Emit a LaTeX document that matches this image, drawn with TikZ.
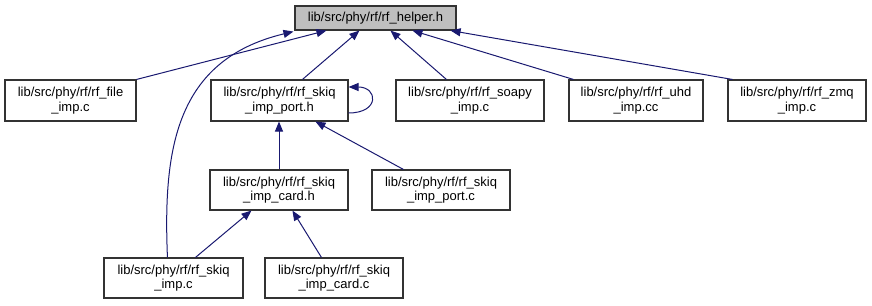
\documentclass[tikz,border=0pt]{standalone}
\usepackage{fontspec}
\setmainfont{Liberation Sans}
\usetikzlibrary{arrows.meta}
\definecolor{edgeblue}{HTML}{191970}
\definecolor{rootfill}{HTML}{BFBFBF}
\definecolor{boxline}{HTML}{333333}
\begin{document}
\begin{tikzpicture}[x=1pt,y=-1pt,
  filebox/.style={draw=boxline,line width=1.1pt,fill=white,inner sep=0pt,
    align=center,minimum height=41pt,
    font=\fontsize{13}{14.5}\selectfont},
  rootbox/.style={filebox,fill=rootfill,minimum height=24pt},
  dep/.style={draw=edgeblue,line width=1pt,
    -{Triangle[length=10pt,width=8pt]}}]
\useasboundingbox (0,0) rectangle (872,305);

% header under inspection
\node[rootbox,minimum width=161pt] (helper) at (375.5,18) {lib/src/phy/rf/rf\_helper.h};

% files that include it directly
\node[filebox,minimum width=131pt] (file)  at (70.5,100.5) {lib/src/phy/rf/rf\_file\\\_imp.c};
\node[filebox,minimum width=137pt] (porth) at (279.5,100.5) {lib/src/phy/rf/rf\_skiq\\\_imp\_port.h};
\node[filebox,minimum width=148pt] (soapy) at (470,100.5) {lib/src/phy/rf/rf\_soapy\\\_imp.c};
\node[filebox,minimum width=134pt] (uhd)   at (636,100.5) {lib/src/phy/rf/rf\_uhd\\\_imp.cc};
\node[filebox,minimum width=138pt] (zmq)   at (797,100.5) {lib/src/phy/rf/rf\_zmq\\\_imp.c};

% second level
\node[filebox,minimum width=138pt,minimum height=40pt] (cardh) at (279,190) {lib/src/phy/rf/rf\_skiq\\\_imp\_card.h};
\node[filebox,minimum width=138pt,minimum height=40pt] (portc) at (441,190) {lib/src/phy/rf/rf\_skiq\\\_imp\_port.c};

% third level
\node[filebox,minimum width=139pt,minimum height=40pt] (impc)  at (173.5,278) {lib/src/phy/rf/rf\_skiq\\\_imp.c};
\node[filebox,minimum width=138pt,minimum height=40pt] (cardc) at (334,278) {lib/src/phy/rf/rf\_skiq\\\_imp\_card.c};

% include edges, pointing at the included file
\draw[dep] (file.north east) -- ([xshift=32pt]helper.south west);
\draw[dep] ([xshift=92pt]porth.north west) -- ([xshift=65pt]helper.south west);
\draw[dep] ([xshift=51pt]soapy.north west) -- ([xshift=96pt]helper.south west);
\draw[dep] ([xshift=5pt]uhd.north west) -- ([xshift=118pt]helper.south west);
\draw[dep] ([xshift=5pt]zmq.north west) -- ([xshift=-6pt]helper.south east);
\draw[dep] ([xshift=64pt]impc.north west) .. controls (163,150) and (175,60) .. ([xshift=-1pt,yshift=-1pt]helper.south west);

\draw[dep] ([yshift=-12.5pt]porth.east) .. controls (380,113) and (378,87) .. ([yshift=13.5pt]porth.east);

\draw[dep] (cardh.north) -- (cardh.north |- porth.south);
\draw[dep] ([xshift=32pt]portc.north west) -- ([xshift=105pt]porth.south west);

\draw[dep] ([xshift=92pt]impc.north west) -- ([xshift=42pt]cardh.south west);
\draw[dep] ([xshift=57pt]cardc.north west) -- ([xshift=83pt]cardh.south west);
\end{tikzpicture}
\end{document}
